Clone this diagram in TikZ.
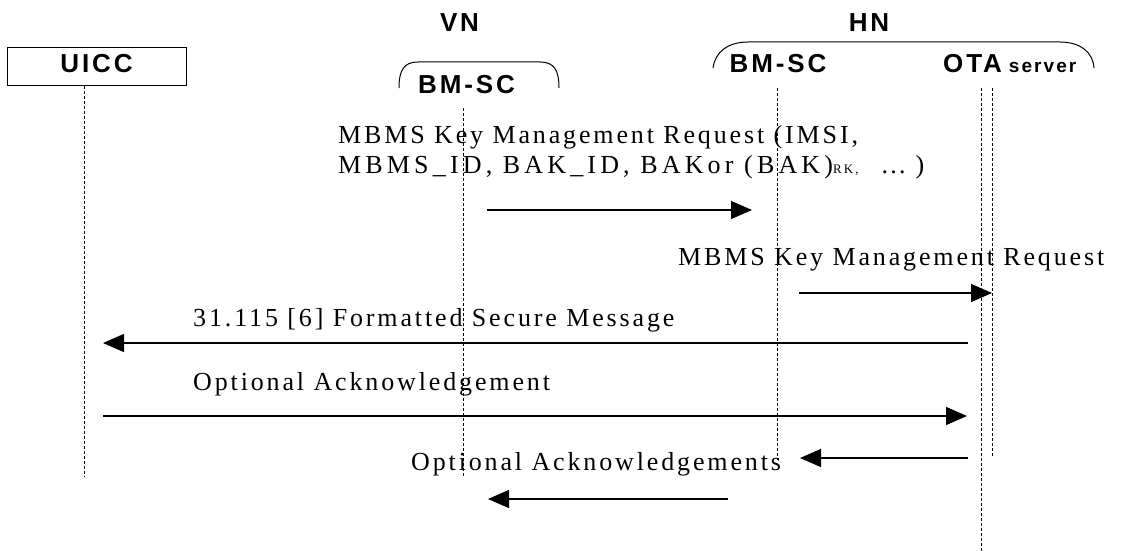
\documentclass[tikz,border=0pt]{standalone}
\usepackage{fontspec}
\setmainfont{Liberation Serif}
\newfontfamily\lbl{Liberation Serif}[LetterSpace=11]
\newfontfamily\lblw{Liberation Serif}[LetterSpace=16]
\newfontfamily\hdr{Liberation Sans}[LetterSpace=11]
\usetikzlibrary{arrows.meta}
\tikzset{
  msg/.style={font={\lbl\fontsize{26}{30}\selectfont}, anchor=base west, inner sep=0pt},
  hd/.style={font={\hdr\bfseries\fontsize{26}{30}\selectfont}, anchor=base, inner sep=0pt},
  life/.style={line width=0.8pt, dash pattern=on 3pt off 2pt},
  arr/.style={line width=1.3pt, -{Triangle[length=21pt,width=18pt]}},
  brace/.style={line width=1pt}
}
\begin{document}
\begin{tikzpicture}[x=1pt,y=-1pt]
\useasboundingbox (0,0) rectangle (1121,551);
% headers
\node[draw, line width=1pt, minimum width=179pt, minimum height=37pt, inner sep=0pt,
      font={\hdr\bfseries\fontsize{26}{30}\selectfont}, text height=19pt, text depth=6pt] (uicc) at (96.5,66.5) {UICC\hspace{6pt}};
\node[hd] (vn) at (459.5,32) {VN};
\node[hd] (vbm) at (466.5,93) {BM-SC};
\node[hd] (hn) at (869,32) {HN};
\node[hd] (hbm) at (778,72) {BM-SC};
\node[hd, anchor=base west] (ota) at (943,72) {OTA\hspace{7pt}{\fontsize{19}{19}\selectfont server}};
% brackets
\draw[brace] (399,88) .. controls (399,70) and (404,62) .. (418,62) -- (540,62) .. controls (554,62) and (559,70) .. (559,88);
\draw[brace] (713,68) .. controls (715,52) and (728,42) .. (748,42) -- (1060,42) .. controls (1080,42) and (1093,52) .. (1094,68);
% lifelines
\coordinate (uB) at (84,477);
\coordinate (vT) at (463,108); \coordinate (vB) at (463,477);
\coordinate (hT) at (777,88); \coordinate (hB) at (777,460);
\coordinate (oT) at (981,88); \coordinate (oB) at (981,551);
\coordinate (sT) at (992,88); \coordinate (sB) at (992,457);
\draw[life] (uicc.south -| uB) -- (uB);
\draw[life] (vT) -- (vB);
\draw[life] (hT) -- (hB);
\draw[life] (oT) -- (oB);
\draw[life] (sT) -- (sB);
% messages
\node[msg] (t1a) at (338,143) {MBMS Key Management Request (IMSI,};
\node[msg, font={\lblw\fontsize{26}{30}\selectfont}] (t1b) at (338,173) {MBMS\_ID, BAK\_ID, BAKor (BAK){\fontsize{13}{13}\selectfont RK,}\hspace{22pt}…\hspace{9pt})};
\coordinate (a1s) at (487,210); \coordinate (a1e) at (752,210);
\draw[arr] (a1s) -- (a1e);
\node[msg] (t2) at (678,265) {MBMS Key Management Request};
\coordinate (a2s) at (799,293); \coordinate (a2e) at (992,293);
\draw[arr] (a2s) -- (a2e);
\node[msg] (t3) at (193,326) {31.115 [6] Formatted Secure Message};
\coordinate (a3s) at (968,343); \coordinate (a3e) at (103,343);
\draw[arr] (a3s) -- (a3e);
\node[msg] (t4) at (193,390) {Optional Acknowledgement};
\coordinate (a4s) at (103,416); \coordinate (a4e) at (967,416);
\draw[arr] (a4s) -- (a4e);
\node[msg] (t5) at (411,470) {Optional Acknowledgements};
\coordinate (a5s) at (968,458); \coordinate (a5e) at (800,458);
\draw[arr] (a5s) -- (a5e);
\coordinate (a6s) at (728,499); \coordinate (a6e) at (488,499);
\draw[arr] (a6s) -- (a6e);
\end{tikzpicture}
\end{document}
